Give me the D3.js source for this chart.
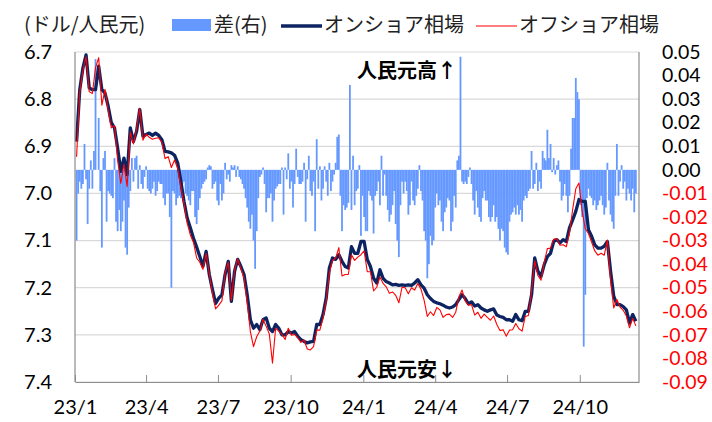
<!DOCTYPE html>
<html>
<head>
<meta charset="utf-8">
<title>人民元 オンショア・オフショア相場</title>
<style>
  body { margin: 0; background: #fff; }
  svg { display: block; }
  .num { font-family: Lato, "Open Sans", sans-serif; }
  .jp { font-family: "Noto Sans CJK JP", sans-serif; }
</style>
</head>
<body>
<script src="https://cdn.jsdelivr.net/npm/d3@7"></script>
<script>

// lines: one point every 4 days from 2023-01-03 (USD/CNY, left axis)
var lineStart = "2023-01-03", lineStep = 4;
var onshore = [
  6.89, 6.78, 6.734, 6.706, 6.776, 6.78, 6.78, 6.73, 6.78, 6.787,
  6.815, 6.85, 6.861, 6.904, 6.953, 6.925, 6.96, 6.861, 6.89, 6.868,
  6.822, 6.879, 6.875, 6.872, 6.877, 6.872, 6.877, 6.886, 6.911, 6.912,
  6.914, 6.919, 6.935, 6.974, 7.017, 7.052, 7.073, 7.095, 7.114, 7.134,
  7.155, 7.123, 7.172, 7.204, 7.233, 7.222,
  7.215, 7.172, 7.144, 7.229, 7.165, 7.14, 7.155, 7.172, 7.215, 7.268,
  7.286, 7.278, 7.289, 7.268, 7.264, 7.286, 7.293, 7.278, 7.286, 7.30,
  7.30, 7.293, 7.296, 7.293, 7.303, 7.31, 7.314, 7.317, 7.315, 7.314,
  7.278, 7.278, 7.257, 7.222, 7.158, 7.137, 7.14, 7.13, 7.144, 7.155,
  7.158, 7.113, 7.127, 7.127, 7.102,
  7.102, 7.14, 7.155, 7.18, 7.19, 7.162, 7.18, 7.187, 7.19, 7.194,
  7.193, 7.195, 7.194, 7.195, 7.194, 7.195, 7.19, 7.183, 7.194, 7.201,
  7.215, 7.223, 7.229, 7.232, 7.234, 7.237, 7.241, 7.243, 7.241, 7.236,
  7.225, 7.215, 7.223, 7.234, 7.23, 7.239, 7.236, 7.243, 7.247, 7.25,
  7.247, 7.245, 7.258, 7.261,
  7.263, 7.268, 7.268, 7.271, 7.257, 7.268, 7.27, 7.25, 7.25, 7.215,
  7.137, 7.165, 7.176, 7.151, 7.134, 7.127, 7.102, 7.098, 7.105, 7.098,
  7.102, 7.073, 7.056, 7.038, 7.013, 7.017, 7.017, 7.077, 7.091, 7.109,
  7.116, 7.116, 7.112, 7.102, 7.165, 7.218, 7.236, 7.236, 7.24, 7.247,
  7.275, 7.257, 7.271
];
var offshore = [
  6.922, 6.785, 6.74, 6.71, 6.784, 6.788, 6.733, 6.712, 6.813, 6.779,
  6.824, 6.861, 6.856, 6.93, 6.979, 6.938, 6.985, 6.87, 6.895, 6.862,
  6.82, 6.887, 6.874, 6.881, 6.885, 6.883, 6.882, 6.892, 6.926, 6.922,
  6.945, 6.929, 6.947, 6.986, 7.022, 7.063, 7.088, 7.104, 7.137, 7.146,
  7.161, 7.127, 7.17, 7.212, 7.245, 7.237,
  7.228, 7.169, 7.146, 7.227, 7.163, 7.139, 7.159, 7.18, 7.231, 7.293,
  7.325, 7.304, 7.292, 7.267, 7.282, 7.298, 7.36, 7.286, 7.292, 7.299,
  7.31, 7.286, 7.301, 7.299, 7.306, 7.316, 7.311, 7.33, 7.332, 7.325,
  7.29, 7.29, 7.265, 7.227, 7.169, 7.142, 7.137, 7.115, 7.175, 7.172,
  7.172, 7.13, 7.142, 7.135, 7.13,
  7.122, 7.166, 7.166, 7.207, 7.199, 7.177, 7.191, 7.198, 7.212, 7.209,
  7.216, 7.232, 7.199, 7.2, 7.213, 7.2, 7.205, 7.191, 7.203, 7.227,
  7.261, 7.251, 7.259, 7.242, 7.247, 7.263, 7.257, 7.256, 7.263, 7.252,
  7.219, 7.205, 7.228, 7.237, 7.236, 7.258, 7.252, 7.265, 7.256, 7.263,
  7.269, 7.26, 7.278, 7.291,
  7.289, 7.303, 7.29, 7.289, 7.276, 7.287, 7.292, 7.261, 7.259, 7.207,
  7.143, 7.174, 7.184, 7.146, 7.117, 7.116, 7.097, 7.096, 7.11, 7.109,
  7.113, 7.084, 7.034, 6.99, 6.978, 7.037, 7.075, 7.085, 7.103, 7.122,
  7.131, 7.127, 7.131, 7.099, 7.184, 7.243, 7.225, 7.241, 7.248, 7.26,
  7.285, 7.265, 7.281
];

// bars: onshore minus offshore, one bar every 2 days from 2023-01-03 (right axis)
var barStart = "2023-01-03", barStep = 2;
var diff = [
  -0.03, -0.01, -0.005, -0.008, -0.006, 0.011, -0.004, -0.023, -0.008, 0.004,
  -0.008, 0.008, 0.047, 0, 0.022, -0.009, -0.033, 0.005, 0.008, -0.022,
  -0.009, -0.01, -0.011, -0.012, 0.005, -0.022, -0.026, -0.017, -0.026, -0.022,
  -0.013, -0.033, -0.036, -0.016, -0.009, 0.005, -0.005, 0.005, 0.006, -0.008,
  0.002, -0.006, -0.008, -0.003, 0.0015, -0.008, -0.009, -0.01, -0.008, -0.005,
  -0.011, -0.009, -0.005, -0.006, -0.006, -0.012, -0.015, -0.01, -0.01, -0.02,
  -0.05, -0.009, -0.01, -0.015, -0.012, -0.011, -0.012, -0.006, -0.005, -0.01,
  -0.011, -0.013, -0.015, -0.009, -0.009, -0.02, -0.023, -0.017, -0.012, -0.008,
  -0.006, -0.005, -0.004, 0.001, 0.002, 0.0015, -0.008, -0.006, -0.005, -0.013,
  -0.015,
  -0.006, -0.013, -0.01, 0.003, -0.004, -0.002, -0.005, 0.002, 0.001, 0.002,
  -0.003, 0.0015, -0.003, -0.004, -0.006, -0.008, -0.012, -0.016, -0.022, -0.025,
  -0.019, -0.03, -0.042, -0.026, -0.012, -0.003, -0.002, 0.001, -0.006, -0.018,
  -0.012, -0.012, -0.01, -0.022, -0.013, -0.008, -0.007, -0.006, -0.006, 0.001,
  -0.019, 0.001, -0.004, 0.007, -0.008, -0.005, -0.016, -0.006, 0.009, -0.003,
  -0.006, -0.006, -0.005, 0.003, -0.022, -0.004, 0.006, -0.009, -0.011, -0.005,
  -0.026, 0.013, -0.008, 0.0015, -0.013, -0.008, 0.0015, -0.005, -0.011, 0.003,
  -0.009, -0.005, -0.002, 0.003, 0.014, 0.015, -0.011, -0.026, -0.015, -0.017,
  -0.016, -0.014, 0.036, -0.017, 0.006, -0.015, -0.009, -0.008,
  0.002, -0.028, -0.011, -0.02, -0.026, -0.026, -0.009, -0.011, -0.013, -0.027,
  -0.011, -0.009, -0.005, -0.015, 0.006, -0.011, -0.002, -0.011, -0.017, -0.022,
  -0.019, -0.015, -0.009, -0.023, -0.03, -0.037, -0.015, -0.005, -0.01, -0.005,
  -0.009, -0.019, -0.015, -0.005, -0.013, -0.015, -0.011, -0.008, 0.002, -0.009,
  -0.013, -0.026, -0.03, -0.046, -0.04, -0.028, -0.032, -0.03, -0.016, -0.01,
  -0.015, -0.013, -0.022, -0.026, -0.018, -0.016, -0.012, -0.013, -0.026, -0.022,
  -0.011, -0.016, 0.004, 0.006, 0.048, -0.005, -0.006, -0.005, -0.006, -0.003,
  0.001, -0.006, -0.013, -0.019, -0.009, -0.016, -0.02, -0.022, -0.012, -0.009,
  -0.013, -0.013, -0.02, -0.022, -0.02, -0.015, -0.022, -0.02, -0.025, -0.03,
  -0.025, -0.026, -0.033, -0.035, -0.036, -0.022, -0.019, -0.018, -0.016, -0.019,
  -0.015, -0.019, -0.017, -0.022, -0.013, -0.011, -0.012, -0.009, -0.008, 0.008,
  -0.008, -0.006, 0.003, -0.009, -0.005, -0.008, 0.008, 0.005, 0.004, 0.017,
  0.005, 0.011, -0.001, 0.005, -0.002, 0.002, 0.004, -0.005, -0.013, -0.011,
  -0.006, -0.011, -0.018, -0.011, 0.009, 0.022, 0.022, 0.039, 0.033, 0.03,
  -0.015, -0.02, -0.075, -0.053, -0.012, -0.008, -0.011, -0.012, -0.015, -0.013,
  -0.017, -0.015, -0.013, -0.011, -0.015, -0.019, -0.016, 0.003, -0.013, -0.019,
  -0.022, -0.025, -0.011, 0.011, -0.011, -0.005, 0.002, -0.008, -0.005, -0.013,
  -0.008, -0.01, -0.013, -0.008, -0.018, -0.01
];

var xTickDates = ["2023-01-01", "2023-04-01", "2023-07-01", "2023-10-01",
                  "2024-01-01", "2024-04-01", "2024-07-01", "2024-10-01"];
var xTickLabels = ["23/1", "23/4", "23/7", "23/10", "24/1", "24/4", "24/7", "24/10"];
var leftTicks = [6.7, 6.8, 6.9, 7.0, 7.1, 7.2, 7.3, 7.4];
var rightTicks = [0.05, 0.04, 0.03, 0.02, 0.01, 0.00, -0.01, -0.02, -0.03,
                  -0.04, -0.05, -0.06, -0.07, -0.08, -0.09];

var width = 712, height = 422;
var plotL = 75, plotR = 639, plotT = 52, plotB = 382;

var navy = "#0c2461", red = "#ff0000", blue = "#6699ff";

var parse = d3.utcParse("%Y-%m-%d");

var x = d3.scaleUtc()
    .domain([parse("2023-01-01"), parse("2024-12-15")])
    .range([plotL, plotR]);
var yL = d3.scaleLinear().domain([6.7, 7.4]).range([plotT, plotB]);
var yR = d3.scaleLinear().domain([0.05, -0.09]).range([plotT, plotB]);

var lineData = onshore.map(function (v, i) {
    return { date: d3.utcDay.offset(parse(lineStart), i * lineStep), on: v, off: offshore[i] };
});
var barData = diff.map(function (v, i) {
    return { date: d3.utcDay.offset(parse(barStart), i * barStep), v: v };
});

var svg = d3.select("body").append("svg")
    .attr("width", width)
    .attr("height", height);

// gridlines
svg.append("g")
    .selectAll("line")
    .data(leftTicks)
    .enter().append("line")
    .attr("x1", plotL).attr("x2", plotR)
    .attr("y1", function (d) { return yL(d); })
    .attr("y2", function (d) { return yL(d); })
    .attr("stroke", "#d9d9d9")
    .attr("stroke-width", 1.2);

// diff bars
var bw = 1.8;
svg.append("g")
    .selectAll("rect")
    .data(barData)
    .enter().append("rect")
    .attr("x", function (d) { return x(d.date) - bw / 2; })
    .attr("y", function (d) { return Math.min(yR(d.v), yR(0)); })
    .attr("width", bw)
    .attr("height", function (d) { return Math.abs(yR(d.v) - yR(0)); })
    .attr("fill", blue);

// lines
var onLine = d3.line()
    .x(function (d) { return x(d.date); })
    .y(function (d) { return yL(d.on); });
var offLine = d3.line()
    .x(function (d) { return x(d.date); })
    .y(function (d) { return yL(d.off); });

svg.append("path")
    .datum(lineData)
    .attr("d", onLine)
    .attr("fill", "none")
    .attr("stroke", navy)
    .attr("stroke-width", 3.3)
    .attr("stroke-linejoin", "round");

svg.append("path")
    .datum(lineData)
    .attr("d", offLine)
    .attr("fill", "none")
    .attr("stroke", red)
    .attr("stroke-width", 1.1)
    .attr("stroke-linejoin", "round");

// axes frame
var axisColor = "#8c8c8c";
svg.append("line")
    .attr("x1", plotL).attr("x2", plotL).attr("y1", plotT).attr("y2", plotB)
    .attr("stroke", axisColor).attr("stroke-width", 1.2);
svg.append("line")
    .attr("x1", plotR).attr("x2", plotR).attr("y1", plotT).attr("y2", plotB)
    .attr("stroke", axisColor).attr("stroke-width", 1.2);

var xAxis = d3.axisBottom(x)
    .tickValues(xTickDates.map(parse))
    .tickSize(0)
    .tickFormat(function (d, i) { return xTickLabels[i]; });

var gx = svg.append("g")
    .attr("transform", "translate(0," + plotB + ")")
    .call(xAxis);
gx.select(".domain").attr("stroke", axisColor).attr("stroke-width", 1.2);
gx.selectAll(".tick line").remove();
gx.selectAll(".tick").append("line")
    .attr("y1", 0).attr("y2", -7)
    .attr("stroke", axisColor);
gx.selectAll(".tick text")
    .attr("class", "num")
    .attr("y", 28)
    .attr("dy", "0.2em")
    .style("font-size", "20px")
    .attr("fill", "#000");

var gl = svg.append("g")
    .attr("transform", "translate(" + plotL + ",0)")
    .call(d3.axisLeft(yL).tickValues(leftTicks).tickSize(0)
        .tickFormat(function (d) { return d.toFixed(1); }));
gl.select(".domain").remove();
gl.selectAll(".tick text")
    .attr("class", "num")
    .attr("x", -23)
    .style("font-size", "20px")
    .attr("fill", "#000");

var gr = svg.append("g")
    .attr("transform", "translate(" + plotR + ",0)")
    .call(d3.axisRight(yR).tickValues(rightTicks).tickSize(0)
        .tickFormat(function (d) { return d.toFixed(2); }));
gr.select(".domain").remove();
gr.selectAll(".tick text")
    .attr("class", "num")
    .attr("x", 23)
    .style("font-size", "19.5px")
    .attr("fill", function (d) { return d < 0 ? red : "#000"; });

// legend
var legendY = 25;
svg.append("text").attr("class", "jp")
    .attr("x", 24).attr("y", legendY).attr("dy", "0.35em")
    .style("font-size", "20px").attr("fill", "#222")
    .text("(ドル/人民元)");

svg.append("rect")
    .attr("x", 172).attr("y", 19).attr("width", 39).attr("height", 12)
    .attr("fill", blue);
svg.append("text").attr("class", "jp")
    .attr("x", 214).attr("y", legendY).attr("dy", "0.35em")
    .style("font-size", "20px").attr("fill", "#222")
    .text("差(右)");

svg.append("line")
    .attr("x1", 281).attr("x2", 322).attr("y1", legendY + 1).attr("y2", legendY + 1)
    .attr("stroke", navy).attr("stroke-width", 3.3);
svg.append("text").attr("class", "jp")
    .attr("x", 324).attr("y", legendY).attr("dy", "0.35em")
    .style("font-size", "20px").attr("fill", "#222")
    .text("オンショア相場");

svg.append("line")
    .attr("x1", 476).attr("x2", 517).attr("y1", legendY + 1).attr("y2", legendY + 1)
    .attr("stroke", red).attr("stroke-width", 1.1);
svg.append("text").attr("class", "jp")
    .attr("x", 519).attr("y", legendY).attr("dy", "0.35em")
    .style("font-size", "20px").attr("fill", "#222")
    .text("オフショア相場");

// annotations
svg.append("text").attr("class", "jp")
    .attr("x", 357).attr("y", 71).attr("dy", "0.35em")
    .style("font-size", "20px").style("font-weight", "bold")
    .text("人民元高↑");
svg.append("text").attr("class", "jp")
    .attr("x", 357).attr("y", 370).attr("dy", "0.35em")
    .style("font-size", "20px").style("font-weight", "bold")
    .text("人民元安↓");

</script>
</body>
</html>
